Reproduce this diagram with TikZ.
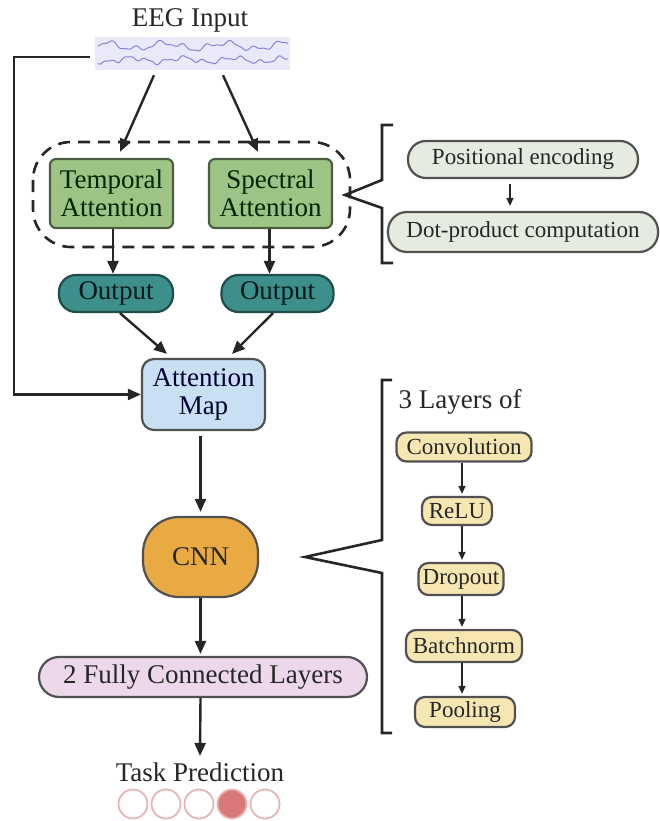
\documentclass[tikz,border=0pt]{standalone}
\usepackage{fontspec}
\setmainfont{Liberation Serif}
\usetikzlibrary{arrows.meta}
\definecolor{eegbg}{HTML}{E9E9FA}
\definecolor{eegwave}{HTML}{8385DC}
\definecolor{attfill}{HTML}{9DC385}
\definecolor{attline}{HTML}{4B5E41}
\definecolor{outfill}{HTML}{3C8F8A}
\definecolor{outline}{HTML}{1F4D4A}
\definecolor{mapfill}{HTML}{C9DFF3}
\definecolor{cnnfill}{HTML}{E9A943}
\definecolor{fcfill}{HTML}{ECD8EA}
\definecolor{encfill}{HTML}{E6EBE1}
\definecolor{layfill}{HTML}{F6E6B2}
\definecolor{predline}{HTML}{EBB3B3}
\definecolor{predfill}{HTML}{D9787A}
\definecolor{ink}{HTML}{262626}

\begin{document}
\begin{tikzpicture}[x=1pt,y=-1pt,
    bigfont/.style={font=\fontsize{27}{28.5}\selectfont},
    smallfont/.style={font=\fontsize{23}{24}\selectfont},
    blk/.style={draw=#1, line width=2.2pt, inner sep=0pt, align=center, text=ink},
    arr/.style={draw=ink, line width=2.4pt, -{Triangle[length=13pt,width=11pt]}},
    sarr/.style={draw=ink, line width=1.4pt, -{Triangle[length=8pt,width=7pt]}},
    brk/.style={draw=ink, line width=2.6pt}]
    \useasboundingbox (0,0) rectangle (660,821);

    \node[bigfont, text=ink] (eegtxt) at (190,20) {EEG Input};
    \node[fill=eegbg, minimum width=195pt, minimum height=33pt, inner sep=0pt] (eeg) at (192.5,53.5) {};
    \draw[eegwave, line width=1pt] plot[domain=98:288, samples=160, smooth]
        (\x, {46+3*sin(6*\x)+2.2*sin(15*\x+40)+1*sin(31*\x)});
    \draw[eegwave, line width=1pt] plot[domain=98:288, samples=160, smooth]
        (\x, {60+2.2*sin(7*\x+70)+1.8*sin(19*\x)+0.8*sin(37*\x+20)});

    \draw[ink, line width=2.6pt, dash pattern=on 12pt off 8pt, rounded corners=38pt] (33,142) rectangle (350,247);
    \node[blk=attline, fill=attfill, text=black!85!green, rounded corners=6pt, minimum width=123pt, minimum height=69pt, bigfont] (tatt) at (111.5,193.5) {Temporal\\Attention};
    \node[blk=attline, fill=attfill, text=black!85!green, rounded corners=6pt, minimum width=123pt, minimum height=69pt, bigfont] (satt) at (270.5,193.5) {Spectral\\Attention};
    \node[blk=outline, fill=outfill, text=black!80!teal, rounded corners=17pt, minimum width=114pt, minimum height=37pt, bigfont] (out1) at (116,293.5) {Output};
    \node[blk=outline, fill=outfill, text=black!80!teal, rounded corners=17pt, minimum width=112pt, minimum height=37pt, bigfont] (out2) at (277.5,293.5) {Output};
    \node[blk=ink!80, fill=mapfill, text=black!80!blue, rounded corners=12pt, minimum width=123pt, minimum height=71pt, bigfont] (amap) at (203.5,394.5) {Attention\\Map};
    \node[blk=ink!80, fill=cnnfill, rounded corners=36pt, minimum width=115pt, minimum height=80pt, bigfont] (cnn) at (200.5,557) {CNN};
    \node[blk=ink!80, fill=fcfill, rounded corners=20pt, minimum width=328pt, minimum height=40pt, bigfont] (fc) at (203,677) {2 Fully Connected Layers};
    \node[bigfont, text=ink] (task) at (200,772) {Task Prediction};

    \foreach \i/\c in {1/white,2/white,3/white,4/predfill,5/white}
        \draw[predline, line width=1.8pt, fill=\c] ({100+33*\i},804) circle[radius=14.5];

    \node[blk=ink!80, fill=encfill, rounded corners=18pt, minimum width=230pt, minimum height=37pt, smallfont] (pos) at (523,159.5) {Positional encoding};
    \node[blk=ink!80, fill=encfill, rounded corners=19pt, minimum width=270pt, minimum height=40pt, smallfont] (dot) at (523,232) {Dot-product computation};

    \node[bigfont, text=ink, anchor=west] (lay) at (395,402) {3 Layers of};
    \node[blk=ink!80, fill=layfill, rounded corners=10pt, minimum width=135pt, minimum height=29pt, smallfont] (conv) at (464,447) {Convolution};
    \node[blk=ink!80, fill=layfill, rounded corners=10pt, minimum width=70pt, minimum height=28pt, smallfont] (relu) at (457,511) {ReLU};
    \node[blk=ink!80, fill=layfill, rounded corners=10pt, minimum width=85pt, minimum height=32pt, smallfont] (drop) at (461,579) {Dropout};
    \node[blk=ink!80, fill=layfill, rounded corners=10pt, minimum width=116pt, minimum height=32pt, smallfont] (batch) at (464,646) {Batchnorm};
    \node[blk=ink!80, fill=layfill, rounded corners=10pt, minimum width=100pt, minimum height=30pt, smallfont] (pool) at (465,712) {Pooling};

    \coordinate (fb) at (14,57);
    \draw[arr] ([xshift=-5pt,yshift=-3.5pt]eeg.west) -- (fb) |- (amap.west);
    \draw[arr] ([xshift=-38.5pt,yshift=-5pt]eeg.south) -- ([xshift=8.5pt,yshift=6pt]tatt.north);
    \draw[arr] ([xshift=30.5pt,yshift=-5pt]eeg.south) -- ([xshift=-12.5pt,yshift=6pt]satt.north);
    \draw[arr] ([xshift=1.5pt]tatt.south) -- ([xshift=-3pt]out1.north);
    \draw[arr] ([xshift=-1pt]satt.south) -- ([xshift=-8pt]out2.north);
    \draw[arr] ([xshift=4pt]out1.south) -- ([xshift=-36.5pt,yshift=4pt]amap.north);
    \draw[arr] ([xshift=-4.5pt]out2.south) -- ([xshift=28.5pt,yshift=4pt]amap.north);
    \draw[arr] ([yshift=-5pt]amap.south -| cnn.north) -- ([yshift=4pt]cnn.north);
    \draw[arr] (cnn.south) -- ([xshift=-2.5pt,yshift=2pt]fc.north);
    \draw[arr] ([xshift=-2.5pt]fc.south) -- ([yshift=3pt]task.north);

    \draw[sarr] ([yshift=-5pt]pos.south -| 510,0) -- ([yshift=5pt]dot.north -| 510,0);
    \draw[sarr] (conv.south -| 462,0) -- ([yshift=2pt]relu.north -| 462,0);
    \draw[sarr] (relu.south -| 462,0) -- ([yshift=2pt]drop.north -| 462,0);
    \draw[sarr] (drop.south -| 462,0) -- ([yshift=2pt]batch.north -| 462,0);
    \draw[sarr] (batch.south -| 462,0) -- ([yshift=2pt]pool.north -| 462,0);

    \draw[brk] (393,125) -- (382,125) -- (382,180) -- (345,195) -- (382,208) -- (382,263) -- (393,263);
    \draw[brk] (392,380) -- (382,380) -- (382,540) -- (305,557) -- (382,573) -- (382,733) -- (392,733);
\end{tikzpicture}
\end{document}
